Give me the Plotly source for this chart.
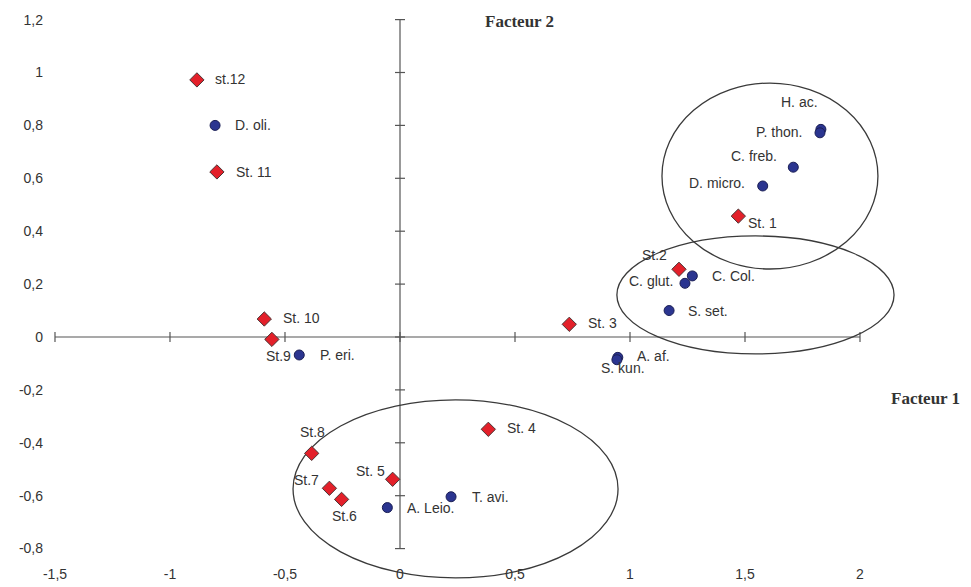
import plotly.graph_objects as go

# Stations (factor 1, factor 2 coordinates)
station_names = ["st.12", "St. 11", "St. 10", "St.9", "St. 1", "St.2", "St. 3",
                 "St. 4", "St.8", "St. 5", "St.7", "St.6"]
station_f1 = [-0.883, -0.796, -0.590, -0.557, 1.471, 1.213, 0.736,
              0.384, -0.384, -0.032, -0.307, -0.254]
station_f2 = [0.972, 0.624, 0.068, -0.009, 0.457, 0.256, 0.048,
              -0.349, -0.440, -0.538, -0.572, -0.614]

# Species (factor 1, factor 2 coordinates)
species_names = ["D. oli.", "P. eri.", "H. ac.", "P. thon.", "C. freb.", "D. micro.",
                 "C. Col.", "C. glut.", "S. set.", "A. af.", "S. kun.", "T. avi.", "A. Leio."]
species_f1 = [-0.804, -0.438, 1.830, 1.826, 1.710, 1.577,
              1.271, 1.239, 1.170, 0.947, 0.943, 0.222, -0.055]
species_f2 = [0.800, -0.068, 0.785, 0.772, 0.642, 0.571,
              0.231, 0.203, 0.100, -0.077, -0.086, -0.604, -0.645]

# Axis ticks
x_ticks = [-1.5, -1, -0.5, 0, 0.5, 1, 1.5, 2]
x_tick_text = ["-1,5", "-1", "-0,5", "0", "0,5", "1", "1,5", "2"]
y_ticks = [-0.8, -0.6, -0.4, -0.2, 0, 0.2, 0.4, 0.6, 0.8, 1, 1.2]
y_tick_text = ["-0,8", "-0,6", "-0,4", "-0,2", "0", "0,2", "0,4", "0,6", "0,8", "1", "1,2"]

# Groups circled on the plane: (f1 min, f1 max, f2 min, f2 max)
groups = [
    (1.139, 2.078, 0.257, 0.960),
    (0.943, 2.148, -0.064, 0.382),
    (-0.465, 0.948, -0.911, -0.238),
]

# Label placement: (xanchor, xshift, yshift) in pixels
station_label_pos = {
    "st.12": ("left", 16, 1), "St. 11": ("left", 17, 0), "St. 10": ("left", 17, 1),
    "St.9": ("center", 7, -17), "St. 1": ("left", 8, -7), "St.2": ("center", -24, 14),
    "St. 3": ("left", 17, 1), "St. 4": ("left", 17, 1), "St.8": ("center", 1, 21),
    "St. 5": ("right", -6, 8), "St.7": ("right", -8, 8), "St.6": ("center", 3, -17),
}
species_label_pos = {
    "D. oli.": ("left", 18, 0), "P. eri.": ("left", 19, 0), "H. ac.": ("center", -21, 27),
    "P. thon.": ("right", -16, 1), "C. freb.": ("right", -14, 11),
    "D. micro.": ("right", -16, 3), "C. Col.": ("left", 18, 0),
    "C. glut.": ("right", -10, 2), "S. set.": ("left", 17, 0), "A. af.": ("left", 17, 1),
    "S. kun.": ("center", 6, -8), "T. avi.": ("left", 19, 0), "A. Leio.": ("left", 18, 0),
}

TXT = "#333333"
SANS = "Liberation Sans, Arial, sans-serif"
SERIF = "Liberation Serif, Times New Roman, serif"

fig = go.Figure()

fig.add_trace(go.Scatter(
    x=species_f1, y=species_f2, mode="markers", name="Espèces",
    marker=dict(symbol="circle", size=10, color="#2b3590",
                line=dict(color="#1b1f55", width=1)),
    cliponaxis=False, showlegend=False,
))
fig.add_trace(go.Scatter(
    x=station_f1, y=station_f2, mode="markers", name="Stations",
    marker=dict(symbol="diamond", size=11, color="#e3202a",
                line=dict(color="#4a3434", width=1)),
    cliponaxis=False, showlegend=False,
))

shapes = []
# Axes crossing at the origin
axis_style = dict(color="#555555", width=1.2)
shapes.append(dict(type="line", xref="x", yref="y", x0=x_ticks[0], x1=x_ticks[-1],
                   y0=0, y1=0, line=axis_style, layer="below"))
shapes.append(dict(type="line", xref="x", yref="y", x0=0, x1=0,
                   y0=y_ticks[0], y1=y_ticks[-1], line=axis_style, layer="below"))
for t in x_ticks:
    shapes.append(dict(type="line", xref="x", yref="y", ysizemode="pixel", yanchor=0,
                       x0=t, x1=t, y0=-5, y1=5, line=axis_style, layer="below"))
for t in y_ticks:
    shapes.append(dict(type="line", xref="x", yref="y", xsizemode="pixel", xanchor=0,
                       x0=-5, x1=5, y0=t, y1=t, line=axis_style, layer="below"))
# Group ellipses
for (a0, a1, b0, b1) in groups:
    shapes.append(dict(type="circle", xref="x", yref="y", x0=a0, x1=a1, y0=b0, y1=b1,
                       line=dict(color="#3a3a3a", width=1.3), layer="below"))

annotations = []
def add_labels(names, xs, ys, pos):
    for n, xv, yv in zip(names, xs, ys):
        anchor, dx, dy = pos[n]
        annotations.append(dict(x=xv, y=yv, xref="x", yref="y", text=n, showarrow=False,
                                xanchor=anchor, yanchor="middle", xshift=dx, yshift=dy,
                                font=dict(family=SANS, size=14, color=TXT)))

add_labels(station_names, station_f1, station_f2, station_label_pos)
add_labels(species_names, species_f1, species_f2, species_label_pos)

annotations.append(dict(x=0.52, y=1.191, xref="x", yref="y", text="<b>Facteur 2</b>",
                        showarrow=False, xanchor="center", yanchor="middle",
                        font=dict(family=SERIF, size=17, color=TXT)))
annotations.append(dict(x=2.285, y=-0.234, xref="x", yref="y", text="<b>Facteur 1</b>",
                        showarrow=False, xanchor="center", yanchor="middle",
                        font=dict(family=SERIF, size=17, color=TXT)))

fig.update_layout(
    width=971, height=587,
    margin=dict(l=50, r=6, t=4, b=4),
    paper_bgcolor="white", plot_bgcolor="white",
    shapes=shapes, annotations=annotations,
    xaxis=dict(range=[-1.5217, 2.4565], showgrid=False, zeroline=False, showline=False,
               tickvals=x_ticks, ticktext=x_tick_text, ticks="",
               anchor="free", position=0.032, fixedrange=True,
               tickfont=dict(family=SANS, size=14, color=TXT)),
    yaxis=dict(range=[-0.9301, 1.2590], showgrid=False, zeroline=False, showline=False,
               tickvals=y_ticks, ticktext=y_tick_text, ticks="", ticklabelstandoff=6,
               fixedrange=True,
               tickfont=dict(family=SANS, size=14, color=TXT)),
)

fig.write_html("out.html")
